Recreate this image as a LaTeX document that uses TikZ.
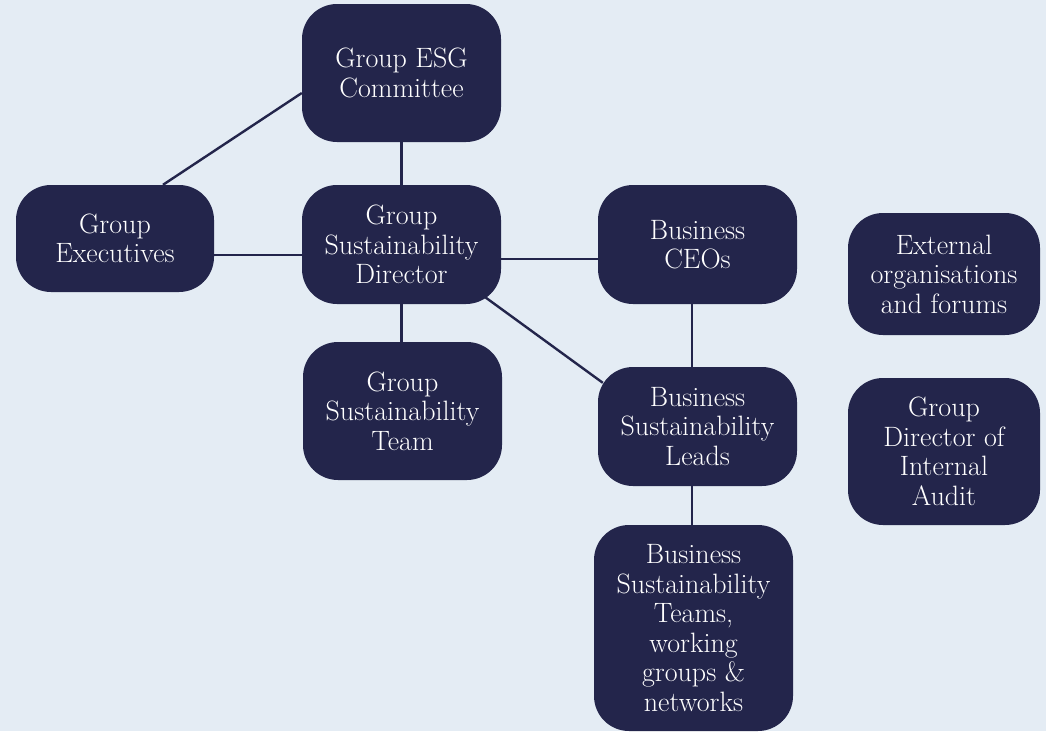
\documentclass[tikz,border=0pt]{standalone}
\usetikzlibrary{calc}
\definecolor{navy}{RGB}{35,37,75}
\definecolor{paper}{RGB}{228,236,244}
\tikzset{
  unit/.style={rectangle, rounded corners=35pt, fill=navy, text=white,
    align=center, inner sep=0pt,
    font=\fontsize{28}{29.5}\selectfont},
  link/.style={draw=navy, line width=2.4pt}
}
\begin{document}
\begin{tikzpicture}[x=1pt, y=-1pt]
  \fill[paper] (0,0) rectangle (1046,731);
  \useasboundingbox (0,0) rectangle (1046,731);

  % boxes
  \node[unit, minimum width=199pt, minimum height=138pt] (esg)   at (401.5,73)  {Group ESG\\Committee};
  \node[unit, minimum width=198pt, minimum height=107pt] (exec)  at (115,238.5) {Group\\Executives};
  \node[unit, minimum width=199pt, minimum height=119pt] (gsd)   at (401.5,244.5) {Group\\Sustainability\\Director};
  \node[unit, minimum width=199pt, minimum height=119pt] (ceo)   at (697.5,244.5) {Business\\CEOs};
  \node[unit, minimum width=192pt, minimum height=122pt] (ext)   at (944,274)   {External\\organisations\\and forums};
  \node[unit, minimum width=199pt, minimum height=138pt] (team)  at (402.5,411) {Group\\Sustainability\\Team};
  \node[unit, minimum width=199pt, minimum height=119pt] (leads) at (697.5,426.5) {Business\\Sustainability\\Leads};
  \node[unit, minimum width=192pt, minimum height=147pt] (audit) at (944,451.5) {Group\\Director of\\Internal\\Audit};
  \node[unit, minimum width=199pt, minimum height=206pt] (teams) at (693.5,628) {Business\\Sustainability\\Teams,\\working\\groups \&\\networks};

  % connectors
  \draw[link] ($(esg.west)+(0,20)$) -- ($(exec.north)+(48,0)$);
  \draw[link] (esg.south) -- (gsd.north);
  \draw[link] ($(exec.east)+(0,16.5)$) coordinate (ea) -- (ea -| gsd.west);
  \draw[link] ($(gsd.east)+(0,14.5)$) coordinate (gb) -- (gb -| ceo.west);
  \draw[link] ($(gsd.south east)+(-16,-7)$) -- ($(leads.north west)+(5,16)$);
  \draw[link] (gsd.south) -- (gsd.south |- team.north);
  \draw[link] ($(ceo.south)+(-5.5,0)$) coordinate (cb) -- (cb |- leads.north);
  \draw[link] ($(leads.south)+(-5.5,0)$) coordinate (lb) -- (lb |- teams.north);
\end{tikzpicture}
\end{document}
